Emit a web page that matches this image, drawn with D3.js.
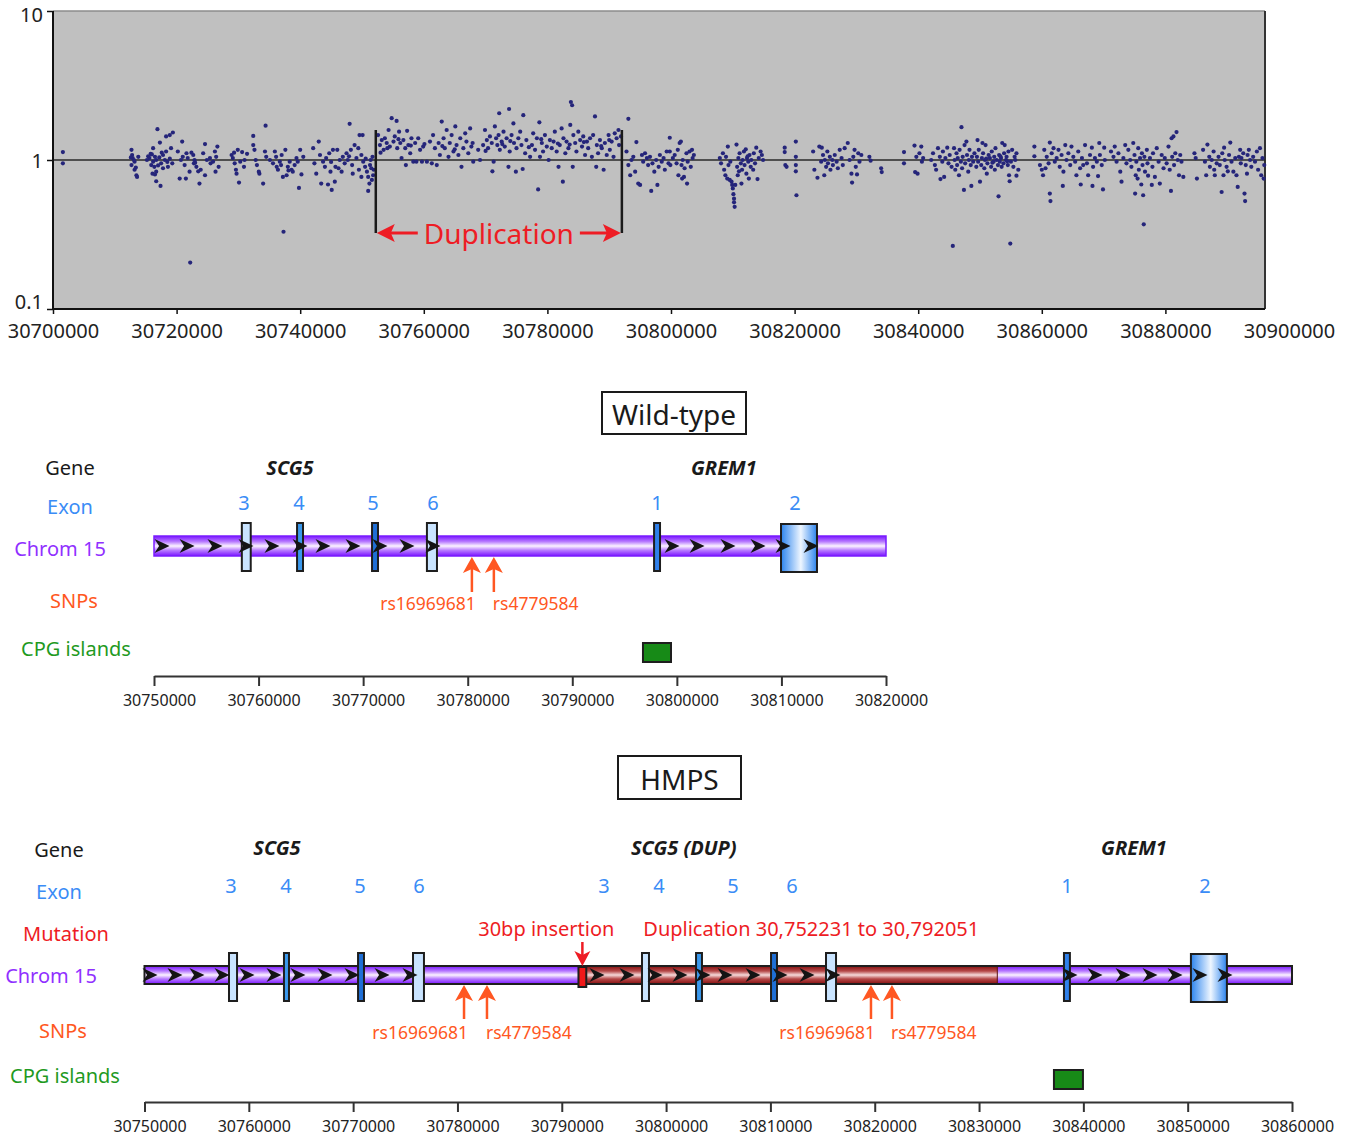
<!DOCTYPE html>
<html>
<head>
<meta charset="utf-8">
<script src="https://cdn.jsdelivr.net/npm/d3@7"></script>
<style>
  body { margin: 0; background: #fff; }
  text { font-family: "Noto Sans", sans-serif; }
</style>
</head>
<body>
<svg id="fig" width="1352" height="1140"></svg>
<script>
/* ---------- data: copy-number ratios (position in kb, ratio) ---------- */
const flankLeft = [
  [30701.6,1.13],[30701.6,0.95],
  [30712.7,1.17],[30712.8,1.08],[30712.9,1.03],[30713.2,0.975],[30712.7,0.925],[30713.4,0.89],[30713.5,0.79],[30713.6,0.77],[30713.1,1.0],[30713.8,1.05],[30712.6,1.04],[30713.2,0.86],
  [30716.9,1.61],[30717.3,1.31],[30716.2,1.20],[30715.4,1.06],[30715.6,1.03],[30716.0,1.09],[30716.5,1.05],[30716.2,0.975],[30716.7,1.0],[30715.9,0.925],[30716.1,0.81],[30716.5,0.80],[30716.7,0.835],[30716.7,0.72],[30717.4,0.67],[30717.2,1.04],[30717.5,0.95],[30717.8,1.08],[30718.1,1.0],[30718.3,1.14],[30718.3,1.44],[30718.9,1.47],[30719.4,1.53],[30718.6,0.90],[30718.9,1.02],[30719.1,1.20],[30719.3,0.95],[30717.8,0.88],[30717.0,0.92],[30715.2,1.0],[30715.8,1.1],[30716.4,0.9],[30717.6,1.12],[30718.5,0.97],
  [30720.2,1.14],[30720.5,0.75],[30720.9,1.33],[30721.0,1.05],[30721.3,0.925],[30721.5,0.75],[30721.6,1.11],[30721.8,1.03],[30722.1,0.835],[30722.2,0.205],[30722.7,1.08],[30722.8,0.95],[30722.9,1.0],[30723.2,0.90],[30723.5,0.84],[30723.7,0.695],[30723.9,0.86],[30724.3,1.11],[30724.6,1.28],[30724.6,0.79],[30724.9,1.0],[30725.4,1.03],[30725.5,0.95],[30726.2,1.14],[30726.3,0.835],[30726.4,1.05],[30726.6,1.23],[30726.8,0.90],[30725.9,0.975],[30720.7,1.0],[30722.4,1.12],[30723.0,0.96],
  [30728.9,1.08],[30729.1,1.03],[30729.4,0.95],[30729.6,0.86],[30729.7,0.81],[30729.9,1.17],[30730.1,0.705],[30730.3,0.975],[30730.6,1.13],[30730.9,0.90],[30731.0,1.0],[30732.4,1.26],[30732.4,1.45],[30732.6,1.17],[30732.8,1.0],[30733.0,0.925],[30733.3,0.835],[30733.4,0.81],[30734.0,0.695],[30734.4,1.70],[30734.3,1.14],[30734.5,1.05],[30731.4,1.1],[30729.3,1.12],
  [30735.1,1.0],[30735.6,0.95],[30735.9,1.14],[30736.1,1.05],[30736.4,0.86],[30736.7,0.975],[30736.9,0.925],[30737.2,0.77],[30737.3,0.33],[30737.6,1.17],[30737.8,0.79],[30738.0,0.90],[30738.3,0.975],[30738.6,0.86],[30738.8,0.835],[30739.1,0.925],[30739.4,1.03],[30739.6,0.975],[30739.8,0.65],[30740.0,1.17],[30740.2,0.80],[30740.5,1.05],[30736.2,0.9],[30737.0,1.08],[30738.1,0.85],
  [30742.1,1.20],[30742.3,0.95],[30742.6,0.81],[30743.0,1.33],[30743.2,1.08],[30743.4,0.695],[30743.7,0.975],[30744.0,0.90],[30744.2,1.03],[30744.5,0.685],[30744.7,1.11],[30744.9,0.835],[30745.1,0.63],[30745.3,1.17],[30745.6,0.715],[30745.7,0.90],[30746.0,1.17],[30746.4,1.0],[30746.7,0.835],[30746.9,1.05],[30747.2,0.95],[30747.5,1.11],[30747.7,1.0],[30748.0,1.75],[30748.2,1.17],[30748.4,0.925],[30748.5,0.81],[30748.8,1.26],[30749.1,1.03],[30749.4,1.20],[30749.5,0.86],[30749.6,1.47],[30749.9,0.77],[30745.0,0.97],[30746.2,0.88],[30747.9,1.06],
  [30749.9,1.08],[30750.2,0.975],[30750.5,0.90],[30750.8,0.835],[30751.0,0.77],[30751.2,0.695],[30751.3,0.925],[30751.4,1.0],[30751.6,0.735],[30751.7,1.05],[30751.8,0.79],[30751.0,0.62],[30751.9,0.86],[30750.1,1.47],[30750.6,1.02],[30751.5,0.88]
];

const dupRegion = [
  [30752.6,1.47],[30752.9,1.26],[30753.2,1.36],[30753.5,1.17],[30753.7,1.40],[30754.0,1.30],[30754.3,1.59],[30754.5,1.23],[30754.8,1.91],[30755.1,1.33],[30755.3,1.44],[30755.6,1.83],[30755.7,1.20],[30756.0,1.55],[30756.2,1.30],[30756.4,1.03],[30756.7,1.36],[30757.0,1.20],[30757.1,0.925],[30757.3,1.57],[30757.5,1.26],[30757.8,1.11],[30758.0,1.40],[30758.3,0.975],[30758.6,1.30],[30758.8,0.975],[30759.1,1.40],[30759.4,1.17],[30759.7,0.975],[30759.9,1.23],
  [30760.5,0.975],[30761.0,1.33],[30761.3,0.95],[30761.5,1.47],[30761.8,1.20],[30762.1,0.925],[30762.4,1.30],[30762.6,1.08],[30762.9,1.81],[30763.2,1.40],[30763.4,1.20],[30763.7,1.59],[30764.0,1.05],[30764.2,1.30],[30764.5,1.47],[30764.8,1.14],[30765.1,1.68],[30765.3,1.26],[30765.6,1.08],[30765.9,1.40],[30766.1,0.90],[30766.4,1.20],[30766.7,1.51],[30766.9,1.33],[30767.2,1.11],[30767.5,1.63],[30767.7,1.23],[30768.0,0.975],[30768.8,1.17],[30769.1,1.0],[30769.6,1.26],[30769.9,1.59],
  [30770.2,1.36],[30770.4,1.20],[30770.7,1.44],[30771.0,1.30],[30771.1,0.84],[30771.3,0.975],[30771.5,1.68],[30771.7,1.40],[30771.9,1.26],[30772.1,1.47],[30772.2,2.06],[30772.3,1.17],[30772.6,1.33],[30772.9,1.55],[30773.1,1.23],[30773.4,1.40],[30773.7,0.90],[30773.8,2.20],[30773.9,1.14],[30774.2,1.47],[30774.5,1.76],[30774.6,1.30],[30774.9,0.835],[30775.0,1.20],[30775.3,1.40],[30775.6,1.55],[30775.8,1.26],[30776.0,0.87],[30776.1,2.0],[30776.4,1.11],[30776.6,1.36],
  [30777.2,1.05],[30777.5,1.26],[30777.7,1.51],[30778.0,1.17],[30778.3,1.40],[30778.5,0.635],[30778.7,1.79],[30778.8,1.05],[30779.1,1.30],[30779.3,1.14],[30779.6,1.47],[30779.9,1.23],[30780.2,1.0],[30780.4,1.36],[30780.7,1.20],[30781.0,1.33],[30781.2,1.55],[30781.5,1.14],[30781.8,0.90],[30782.0,1.26],[30782.3,1.63],[30782.5,0.715],[30782.6,1.40],[30782.9,1.11],[30783.1,1.33],[30783.4,1.20],[30783.7,1.72],[30783.8,2.45],[30784.0,2.33],[30784.1,0.90],[30784.2,1.47],[30784.5,1.30],[30784.7,1.14],[30785.0,1.55],[30785.3,1.36],[30785.6,1.23],[30785.8,1.44],[30786.1,1.08],[30786.4,1.33],[30786.6,1.20],[30786.9,1.40],[30787.2,1.05],[30787.4,1.47],[30787.7,1.96],[30787.9,0.90],[30788.0,1.26],[30788.2,1.11],[30788.5,1.36],[30788.8,1.20],[30789.1,0.86],[30789.3,1.30],[30789.6,1.08],[30789.9,1.47],[30790.1,1.17],[30790.4,1.33],[30790.7,1.05],[30790.9,1.51],[30791.2,1.40],[30791.5,1.59],[30791.6,1.26],[30791.9,1.44],
  [30753.0,1.12],[30754.1,1.2],[30755.9,1.38],[30757.9,1.25],[30760.1,1.28],[30763.0,1.24],[30765.0,1.18],[30767.9,1.3],[30770.0,1.15],[30772.7,1.28],[30774.0,1.34],[30777.0,1.22],[30779.0,1.38],[30781.7,1.29],[30783.6,1.27],[30785.9,1.32],[30788.7,1.24],[30790.0,1.36]
];

const flankRight = [
  [30792.8,1.14],[30793.1,1.89],[30793.1,0.925],[30793.4,0.79],[30793.6,1.0],[30793.9,1.05],[30794.2,0.835],[30794.4,1.32],[30794.7,0.695],[30795.0,0.68],[30795.3,1.08],[30795.5,0.975],[30795.8,1.11],[30796.1,1.03],[30796.3,0.925],[30796.6,1.05],[30796.8,0.62],[30797.0,0.95],[30797.3,0.835],[30797.6,1.0],[30797.8,0.68],[30798.0,0.90],[30798.2,1.08],[30798.5,0.975],[30798.8,1.03],[30799.0,0.86],[30799.3,1.14],[30799.6,0.95],
  [30799.8,1.41],[30799.8,1.14],[30799.9,0.925],[30800.3,1.03],[30800.6,1.08],[30800.9,0.95],[30801.1,1.17],[30801.2,0.79],[30801.4,1.30],[30801.6,1.33],[30801.7,0.925],[30801.8,0.75],[30801.9,1.0],[30802.1,0.77],[30802.2,0.88],[30802.5,1.11],[30802.6,0.695],[30802.7,0.975],[30803.0,1.14],[30803.2,0.90],[30803.4,1.17],[30803.5,1.03],[30803.7,1.08],
  [30807.9,1.03],[30808.1,0.95],[30808.4,1.11],[30808.6,0.86],[30808.8,0.79],[30808.9,1.05],[30809.1,0.75],[30809.2,1.23],[30809.3,0.925],[30809.5,0.735],[30809.6,0.975],[30809.8,0.715],[30809.9,0.68],[30810.0,0.645],[30810.1,0.59],[30810.2,0.55],[30810.2,0.52],[30810.3,0.485],[30810.4,0.68],[30810.6,1.27],[30810.7,0.90],[30810.8,0.79],[30810.9,1.03],[30811.1,1.11],[30811.3,0.95],[30811.4,0.695],[30811.5,0.86],[30811.6,1.0],[30811.8,1.14],[30811.9,0.925],[30812.1,1.18],[30812.2,0.81],[30812.3,1.03],[30812.5,0.975],[30812.6,0.75],[30812.7,1.08],[30812.9,0.90],[30813.0,1.0],[30813.3,0.86],[30813.4,1.11],[30813.6,0.95],[30813.8,1.21],[30814.0,0.745],[30814.2,1.03],[30814.5,1.14],[30814.7,1.08],[30814.9,1.0],[30811.0,0.84],[30812.4,1.06],
  [30818.4,1.21],[30818.4,1.13],[30818.5,0.925],[30818.7,0.90],[30820.2,1.33],[30820.2,1.05],[30820.2,0.925],[30820.2,0.84],[30820.3,0.58],
  [30823.0,1.14],[30823.2,0.86],[30823.7,0.76],[30824.0,1.23],[30824.3,0.975],[30824.4,1.21],[30824.6,1.08],[30824.8,0.79],[30824.9,1.0],[30825.1,0.90],[30825.3,1.14],[30825.4,0.95],[30825.7,1.05],[30825.8,0.86],[30826.1,1.0],[30826.2,0.925],[30826.5,1.08],[30826.8,0.975],[30827.0,0.88],[30827.3,1.17],[30827.6,1.03],[30827.8,0.925],[30828.1,1.20],[30828.6,1.30],[30828.9,1.0],[30829.2,0.81],[30829.3,0.705],[30829.5,1.05],[30829.7,1.17],[30829.9,0.90],[30830.1,0.80],[30830.3,1.11],[30830.5,0.975],[30830.8,1.08],[30832.1,1.05],[30832.3,0.99],
  [30834.0,0.88],[30834.1,0.83],[30837.7,1.13],[30837.7,0.95],
  [30839.4,1.25],[30839.5,0.83],[30839.7,1.05],[30839.9,0.81],[30840.2,1.11],[30840.5,1.23],[30840.6,0.975],[30840.8,1.03],[30842.1,1.0],[30842.4,1.11],[30842.7,0.925],[30842.9,0.86],[30843.2,1.20],[30843.5,1.05],[30843.6,0.745],[30843.9,0.975],[30844.0,1.14],[30844.2,0.77],[30844.4,1.03],[30844.7,1.21],[30844.9,0.95],[30845.1,1.08],[30845.4,0.90],[30845.6,0.265],[30845.8,1.20],[30845.9,1.0],[30846.0,0.86],[30846.2,1.11],[30846.3,0.925],[30846.4,1.03],[30846.6,0.79],[30846.7,1.17],[30846.9,0.975],[30847.0,1.66],[30847.1,0.88],[30847.2,1.05],[30847.4,0.63],[30847.5,1.26],[30847.6,0.95],[30847.8,1.33],[30847.9,1.08],[30848.1,0.835],[30848.2,1.0],[30848.3,1.17],[30848.5,0.925],[30848.6,0.67],[30848.7,1.05],[30848.9,0.975],[30849.1,1.11],[30849.4,0.90],
  [30849.5,1.05],[30849.6,1.36],[30849.7,0.975],[30849.8,1.17],[30850.0,0.715],[30850.2,0.925],[30850.3,1.03],[30850.4,1.30],[30850.5,1.11],[30850.7,0.88],[30850.8,1.0],[30850.9,1.26],[30851.1,0.81],[30851.2,0.95],[30851.4,1.08],[30851.6,1.03],[30851.8,0.90],[30851.9,1.14],[30852.2,0.975],[30852.3,1.05],[30852.4,0.86],[30852.5,1.20],[30852.7,1.0],[30852.9,0.925],[30853.0,0.57],[30853.1,1.08],[30853.2,0.975],[30853.4,1.03],[30853.5,0.90],[30853.6,1.30],[30853.8,0.95],[30853.9,1.11],[30854.0,1.26],[30854.2,1.0],[30854.3,1.05],[30854.5,0.925],[30854.6,1.14],[30854.7,0.79],[30854.8,0.72],[30854.9,0.275],[30855.0,0.975],[30855.2,1.17],[30855.4,0.90],[30855.6,1.05],[30855.7,1.0],[30855.9,1.11],[30855.9,0.785],[30856.2,0.86],[30851.0,1.02],[30852.0,0.96],[30853.3,1.06],[30854.4,0.98],
  [30858.8,1.23],[30858.8,1.06],[30859.7,0.925],[30860.0,0.86],[30860.2,0.79],[30860.4,1.17],[30860.6,0.88],[30860.8,1.05],[30861.1,0.95],[30861.3,0.595],[30861.3,1.31],[30861.4,0.53],[30861.6,1.11],[30861.9,1.20],[30862.1,0.975],[30862.4,1.03],[30862.7,1.17],[30862.9,0.90],[30863.2,1.08],[30863.4,0.67],[30863.5,0.835],[30863.8,1.26],[30864.0,1.0],[30864.3,1.11],[30864.6,0.925],[30864.8,1.23],[30865.1,1.05],[30865.4,0.975],[30865.6,0.79],[30865.9,1.14],[30866.2,0.88],[30866.3,0.685],[30866.5,1.03],[30866.7,0.925],[30867.0,1.26],[30867.3,0.95],[30867.5,0.79],[30867.8,1.08],[30868.1,1.21],[30868.2,0.67],[30868.3,0.90],[30868.6,1.03],[30868.9,0.975],[30869.1,0.78],[30869.3,1.30],[30869.4,1.08],[30869.7,0.925],[30869.9,0.635],[30870.1,1.21],[30870.2,1.0],
  [30871.2,1.14],[30871.6,1.05],[30871.8,1.23],[30872.1,0.975],[30872.4,1.11],[30872.7,0.835],[30872.9,0.715],[30873.2,1.03],[30873.5,1.26],[30873.7,0.95],[30874.0,1.17],[30874.3,1.0],[30874.5,0.90],[30874.8,1.30],[30875.0,1.08],[30875.1,0.595],[30875.2,0.79],[30875.3,0.975],[30875.5,0.75],[30875.6,1.20],[30875.7,0.86],[30875.9,1.03],[30876.1,0.685],[30876.2,1.11],[30876.3,0.925],[30876.4,0.58],[30876.5,0.37],[30876.6,1.05],[30876.7,0.835],[30877.0,1.17],[30877.1,0.95],[30877.2,0.785],[30877.5,1.03],[30877.8,0.68],[30877.9,0.90],[30878.0,1.11],[30878.3,0.77],[30878.6,1.20],[30878.9,0.975],[30879.1,0.695],[30879.4,1.08],[30879.7,0.88],[30879.9,1.03],[30880.2,0.95],[30880.5,1.23],[30880.7,0.86],[30880.9,0.62],[30881.0,1.40],[30881.1,1.05],[30881.3,1.44],[30881.4,0.925],[30881.6,1.11],[30881.8,1.54],[30882.0,1.0],[30882.2,0.79],[30882.4,1.08],[30882.6,0.975],[30882.9,0.77],
  [30884.7,1.11],[30884.9,1.03],[30885.1,0.75],[30886.1,1.17],[30886.4,0.975],[30886.6,0.79],[30886.8,1.27],[30887.1,1.05],[30887.2,0.90],[30887.5,1.0],[30887.8,1.14],[30887.9,0.86],[30888.0,0.79],[30888.3,0.95],[30888.6,1.05],[30888.8,0.925],[30889.1,0.61],[30889.2,1.11],[30889.4,0.79],[30889.5,1.21],[30889.6,1.0],[30889.9,0.90],[30890.1,0.84],[30890.3,1.08],[30890.5,1.31],[30890.7,0.975],[30891.0,0.835],[30891.3,1.03],[30891.5,0.79],[30891.7,0.66],[30891.9,1.05],[30892.1,1.17],[30892.2,0.95],[30892.3,1.03],[30892.6,1.11],[30892.8,0.595],[30892.9,0.53],[30893.0,0.925],[30893.2,0.81],[30893.3,1.08],[30893.5,1.17],[30893.7,1.0],[30893.9,0.90],[30894.2,1.05],[30894.5,0.975],[30894.8,1.14],[30895.0,0.86],[30895.3,1.20],[30895.5,0.79],[30895.7,1.03],[30895.9,0.75],[30896.0,0.925]
];

const topTicks = [30700000, 30720000, 30740000, 30760000, 30780000, 30800000, 30820000, 30840000, 30860000, 30880000, 30900000];
const yTicks = [0.1, 1, 10];
const yTickLabels = ["0.1", "1", "10"];
const dupStart = 30752231, dupEnd = 30792051;

/* ---------- data: wild-type locus ---------- */
const wtGenes = ["SCG5", "GREM1"];
const wtGenePos = [30763000, 30804500];
const wtExonNames = ["3", "4", "5", "6", "1", "2"];
const wtExonStart = [30758400, 30763680, 30770850, 30776100, 30797820, 30809960];
const wtExonEnd = [30759250, 30764250, 30771420, 30777060, 30798390, 30813400];
const wtExonLabelPos = [30758600, 30763870, 30770940, 30776680, 30798100, 30811300];
const wtChevrons = [30750770, 30753160, 30755830, 30758800, 30761280, 30763960, 30766160, 30769030, 30771610, 30774190, 30776680,
                    30799540, 30801930, 30804890, 30807760, 30810150, 30812830];
const snpNames = ["rs16969681", "rs4779584"];
const wtSnpPos = [30780400, 30782500];
const wtCpg = [[30796760, 30799440]];
const wtTicks = [30750000, 30760000, 30770000, 30780000, 30790000, 30800000, 30810000, 30820000];

/* ---------- data: HMPS locus ---------- */
const hmGenes = ["SCG5", "SCG5 (DUP)", "GREM1"];
const hmGenePos = [30762700, 30801700, 30844850];
const hmExonNames = ["3", "4", "5", "6", "3", "4", "5", "6", "1", "2"];
const hmExonStart = [30758100, 30763370, 30770470, 30775740, 30797690, 30802870, 30810060, 30815330, 30838140, 30850310];
const hmExonEnd = [30758870, 30763850, 30771040, 30776790, 30798360, 30803440, 30810630, 30816290, 30838710, 30853760];
const hmExonLabelPos = [30758290, 30763560, 30770660, 30776310, 30794050, 30799320, 30806410, 30812070, 30838430, 30851660];
const hmChevrons = [30750530, 30752920, 30755030, 30757430, 30759830, 30762410, 30764710, 30767300, 30769890, 30772770, 30775450,
                    30793380, 30796250, 30798940, 30801330, 30803540, 30805650, 30808330, 30810920, 30813510, 30816000,
                    30838720, 30841120, 30843800, 30846390, 30848790, 30851180, 30853580];
const hmSnpPos = [30780630, 30782830, 30819640, 30821650];
const hmCpg = [[30837180, 30839960]];
const insertion = [30791600, 30792350];
const dupCopy = [30792350, 30831750];
const hmTicks = [30750000, 30760000, 30770000, 30780000, 30790000, 30800000, 30810000, 30820000, 30830000, 30840000, 30850000, 30860000];

/* ---------- styles ---------- */
const font = '"Noto Sans", sans-serif';
const cBlue = "#3a8cf6", cPurple = "#9030ff", cOrange = "#ff5722", cGreen = "#1f9a1f", cRed = "#ee1c24";
const exonFill = { light: "#c9e4ff", mid: "#3a98ec", dark: "#1f6fd6", grem: "#2f80ea", big: "url(#exonGrad)" };
const wtExonStyle = ["light", "mid", "dark", "light", "grem", "big"];
const hmExonStyle = ["light", "mid", "dark", "light", "light", "mid", "dark", "light", "grem", "big"];

const svg = d3.select("#fig");
const defs = svg.append("defs");

function vGrad(id, edge, mid, center) {
  const g = defs.append("linearGradient").attr("id", id).attr("x1", 0).attr("y1", 0).attr("x2", 0).attr("y2", 1);
  [[0, edge], [0.28, mid], [0.5, center], [0.72, mid], [1, edge]].forEach(s =>
    g.append("stop").attr("offset", s[0]).attr("stop-color", s[1]));
}
vGrad("purpleGrad", "#7a14ff", "#b77aff", "#fbf2ff");
vGrad("redGrad", "#850f0f", "#b54848", "#f6dada");
const eg = defs.append("linearGradient").attr("id", "exonGrad").attr("x1", 0).attr("x2", 1).attr("y1", 0).attr("y2", 0);
[[0, "#2c84ee"], [0.55, "#eef6ff"], [1, "#2c84ee"]].forEach(s =>
  eg.append("stop").attr("offset", s[0]).attr("stop-color", s[1]));

/* ---------- top panel ---------- */
const xTop = d3.scaleLinear().domain([30700000, 30900000]).range([53, 1289]);
const yTop = d3.scaleLog().domain([0.1, 10]).range([309, 11]);
const plotRight = 1265;

svg.append("rect").attr("x", 53).attr("y", 11).attr("width", plotRight - 53).attr("height", 298).attr("fill", "#c0c0c0");
svg.append("line").attr("x1", 53).attr("x2", plotRight).attr("y1", 11).attr("y2", 11).attr("stroke", "#8c8c8c").attr("stroke-width", 1.5);
svg.append("line").attr("x1", plotRight).attr("x2", plotRight).attr("y1", 11).attr("y2", 309).attr("stroke", "#333").attr("stroke-width", 2);
svg.append("line").attr("x1", 53).attr("x2", plotRight).attr("y1", yTop(1)).attr("y2", yTop(1)).attr("stroke", "#2a2a2a").attr("stroke-width", 1.6);

const allPoints = flankLeft.concat(dupRegion, flankRight);
svg.append("g").selectAll("circle").data(allPoints).join("circle")
  .attr("cx", d => xTop(d[0] * 1000))
  .attr("cy", d => yTop(d[1]))
  .attr("r", 2.1)
  .attr("fill", "#25257a");

const gxTop = svg.append("g").attr("transform", "translate(0,309)")
  .call(d3.axisBottom(xTop).tickValues(topTicks).tickSize(5).tickSizeOuter(0).tickFormat(d3.format("d")));
gxTop.select(".domain").remove();
gxTop.selectAll(".tick line").attr("stroke", "#111").attr("stroke-width", 1.5).filter(d => xTop(d) > plotRight + 1).remove();
gxTop.selectAll(".tick text").attr("font-family", font).attr("font-size", 20).attr("fill", "#222").attr("y", 15);

const gyTop = svg.append("g").attr("transform", "translate(53,0)")
  .call(d3.axisLeft(yTop).tickValues(yTicks).tickSize(6).tickSizeOuter(0).tickFormat((d, i) => yTickLabels[i]));
gyTop.select(".domain").remove();
gyTop.selectAll(".tick line").attr("stroke", "#111").attr("stroke-width", 1.5);
gyTop.selectAll(".tick text").attr("font-family", font).attr("font-size", 20).attr("fill", "#222").attr("x", -10)
  .attr("dy", d => d === 0.1 ? "-0.05em" : (d === 10 ? "0.5em" : "0.38em"));

svg.append("line").attr("x1", 53).attr("x2", plotRight).attr("y1", 309).attr("y2", 309).attr("stroke", "#111").attr("stroke-width", 2);
svg.append("line").attr("x1", 53).attr("x2", 53).attr("y1", 11).attr("y2", 309).attr("stroke", "#111").attr("stroke-width", 2);

// duplication annotation
const xs = xTop(dupStart), xe = xTop(dupEnd), yA = 233;
[xs, xe].forEach(x => svg.append("line").attr("x1", x).attr("x2", x).attr("y1", 130).attr("y2", yA)
  .attr("stroke", "#1a1a1a").attr("stroke-width", 2.5));
svg.append("line").attr("x1", xs + 12).attr("x2", xs + 42).attr("y1", yA).attr("y2", yA).attr("stroke", cRed).attr("stroke-width", 3);
svg.append("path").attr("d", `M${xs + 1},${yA}L${xs + 19},${yA - 9}L${xs + 15},${yA}L${xs + 19},${yA + 9}Z`).attr("fill", cRed);
svg.append("line").attr("x1", xe - 42).attr("x2", xe - 12).attr("y1", yA).attr("y2", yA).attr("stroke", cRed).attr("stroke-width", 3);
svg.append("path").attr("d", `M${xe - 1},${yA}L${xe - 19},${yA - 9}L${xe - 15},${yA}L${xe - 19},${yA + 9}Z`).attr("fill", cRed);
svg.append("text").attr("x", (xs + xe) / 2).attr("y", yA).attr("text-anchor", "middle").attr("dominant-baseline", "central")
  .attr("font-size", 28).attr("fill", cRed).text("Duplication");

/* ---------- helpers for locus panels ---------- */
function titleBox(cx, y, w, h, label) {
  svg.append("rect").attr("x", cx - w / 2).attr("y", y).attr("width", w).attr("height", h)
    .attr("fill", "#fff").attr("stroke", "#1a1a1a").attr("stroke-width", 2);
  svg.append("text").attr("x", cx).attr("y", y + h / 2 + 1).attr("text-anchor", "middle").attr("dominant-baseline", "central")
    .attr("font-size", 28).attr("fill", "#1a1a1a").text(label);
}
function rowLabel(x, y, label, color) {
  svg.append("text").attr("x", x).attr("y", y).attr("text-anchor", "middle").attr("dominant-baseline", "central")
    .attr("font-size", 20).attr("fill", color).text(label);
}
function geneLabels(x, names, pos, y) {
  svg.append("g").selectAll("text").data(names).join("text")
    .attr("x", (d, i) => x(pos[i])).attr("y", y).attr("text-anchor", "middle").attr("dominant-baseline", "central")
    .attr("font-size", 20).attr("font-weight", "bold").attr("font-style", "italic").attr("fill", "#1a1a1a")
    .text(d => d);
}
function exons(x, names, starts, ends, labelPos, styles, cy, labelY) {
  const g = svg.append("g");
  g.selectAll("rect").data(names).join("rect")
    .attr("x", (d, i) => x(starts[i]))
    .attr("width", (d, i) => Math.max(5, x(ends[i]) - x(starts[i])))
    .attr("y", (d, i) => cy - 24 + (styles[i] === "big" ? 1 : 0))
    .attr("height", 48)
    .attr("fill", (d, i) => exonFill[styles[i]])
    .attr("stroke", "#1e1e1e").attr("stroke-width", 2);
  svg.append("g").selectAll("text").data(names).join("text")
    .attr("x", (d, i) => x(labelPos[i])).attr("y", labelY).attr("text-anchor", "middle").attr("dominant-baseline", "central")
    .attr("font-size", 20).attr("fill", cBlue).text(d => d);
}
function chevrons(x, pos, cy) {
  svg.append("g").selectAll("path").data(pos).join("path")
    .attr("d", "M-7.5,-7L7.5,0L-7.5,7L-3,0Z")
    .attr("transform", d => `translate(${x(d)},${cy})`)
    .attr("fill", "#141414");
}
function snps(x, pos, tipY, baseY, labelY) {
  const g = svg.append("g");
  pos.forEach((p, i) => {
    const px = x(p);
    g.append("line").attr("x1", px).attr("x2", px).attr("y1", baseY).attr("y2", tipY + 10)
      .attr("stroke", cOrange).attr("stroke-width", 2.5);
    g.append("path").attr("d", `M${px},${tipY}L${px + 9},${tipY + 16}L${px},${tipY + 12}L${px - 9},${tipY + 16}Z`).attr("fill", cOrange);
    const first = i % 2 === 0;
    g.append("text").attr("x", first ? px + 4 : px - 1).attr("y", labelY)
      .attr("text-anchor", first ? "end" : "start").attr("dominant-baseline", "central")
      .attr("font-size", 17.5).attr("fill", cOrange).text(snpNames[i % 2]);
  });
}
function cpg(x, spans, y) {
  svg.append("g").selectAll("rect").data(spans).join("rect")
    .attr("x", d => x(d[0])).attr("width", d => x(d[1]) - x(d[0]))
    .attr("y", y).attr("height", 19)
    .attr("fill", "#178a17").attr("stroke", "#1e1e1e").attr("stroke-width", 2);
}
function scaleAxis(x, ticks, y, labelGap) {
  const g = svg.append("g").attr("transform", `translate(0,${y})`)
    .call(d3.axisBottom(x).tickValues(ticks).tickSize(10).tickSizeOuter(0).tickFormat(d3.format("d")));
  g.attr("color", "#333");
  g.select(".domain").attr("stroke-width", 2);
  g.selectAll(".tick line").attr("stroke-width", 2);
  g.selectAll(".tick text").attr("font-family", font).attr("font-size", 16).attr("fill", "#222")
    .attr("x", 5).attr("y", labelGap);
}

/* ---------- wild-type panel ---------- */
const wtX = d3.scaleLinear().domain([30750000, 30820000]).range([154, 886]);
const wtCy = 546;
titleBox(674, 392, 144, 42, "Wild-type");
rowLabel(70, 467, "Gene", "#1a1a1a");
rowLabel(70, 506, "Exon", cBlue);
rowLabel(60, 548, "Chrom 15", cPurple);
rowLabel(74, 600, "SNPs", cOrange);
rowLabel(76, 648, "CPG islands", cGreen);
geneLabels(wtX, wtGenes, wtGenePos, 467);

svg.append("rect").attr("x", wtX(30750000)).attr("y", wtCy - 10).attr("width", wtX(30820000) - wtX(30750000)).attr("height", 20)
  .attr("fill", "url(#purpleGrad)").attr("stroke", "#7a1cff").attr("stroke-width", 1.5);
exons(wtX, wtExonNames, wtExonStart, wtExonEnd, wtExonLabelPos, wtExonStyle, wtCy + 1, 502);
chevrons(wtX, wtChevrons, wtCy);
snps(wtX, wtSnpPos, 557, 592, 603);
cpg(wtX, wtCpg, 643);
scaleAxis(wtX, wtTicks, 676, 19);

/* ---------- HMPS panel ---------- */
const hmX = d3.scaleLinear().domain([30750000, 30860000]).range([144.5, 1292]);
const hmCy = 975;
titleBox(679.5, 756, 123, 43, "HMPS");
rowLabel(59, 849, "Gene", "#1a1a1a");
rowLabel(59, 891, "Exon", cBlue);
rowLabel(66, 933, "Mutation", cRed);
rowLabel(51, 975, "Chrom 15", cPurple);
rowLabel(63, 1030, "SNPs", cOrange);
rowLabel(65, 1075, "CPG islands", cGreen);
geneLabels(hmX, hmGenes, hmGenePos, 847);

const barX0 = hmX(30750000), barX1 = hmX(30860000);
svg.append("rect").attr("x", barX0).attr("y", hmCy - 9).attr("width", barX1 - barX0).attr("height", 18).attr("fill", "url(#purpleGrad)");
svg.append("rect").attr("x", hmX(dupCopy[0])).attr("y", hmCy - 9).attr("width", hmX(dupCopy[1]) - hmX(dupCopy[0])).attr("height", 18)
  .attr("fill", "url(#redGrad)");
svg.append("line").attr("x1", hmX(dupCopy[1])).attr("x2", hmX(dupCopy[1])).attr("y1", hmCy - 9).attr("y2", hmCy + 9)
  .attr("stroke", "#5a1010").attr("stroke-width", 1);
svg.append("rect").attr("x", barX0).attr("y", hmCy - 9).attr("width", barX1 - barX0).attr("height", 18)
  .attr("fill", "none").attr("stroke", "#1e1e1e").attr("stroke-width", 2);
svg.append("rect").attr("x", hmX(insertion[0])).attr("y", hmCy - 8).attr("width", hmX(insertion[1]) - hmX(insertion[0])).attr("height", 20)
  .attr("fill", "#f01818").attr("stroke", "#1e1e1e").attr("stroke-width", 2);

exons(hmX, hmExonNames, hmExonStart, hmExonEnd, hmExonLabelPos, hmExonStyle, hmCy + 2, 885);
chevrons(hmX, hmChevrons, hmCy);
snps(hmX, hmSnpPos, 985, 1019, 1032);
cpg(hmX, hmCpg, 1070);
scaleAxis(hmX, hmTicks, 1102, 19);

// mutation labels
const insX = (hmX(insertion[0]) + hmX(insertion[1])) / 2;
svg.append("line").attr("x1", insX).attr("x2", insX).attr("y1", 942).attr("y2", 956).attr("stroke", cRed).attr("stroke-width", 2.5);
svg.append("path").attr("d", `M${insX},966L${insX - 8},951L${insX},955L${insX + 8},951Z`).attr("fill", cRed);
svg.append("text").attr("x", insX + 32).attr("y", 928).attr("text-anchor", "end").attr("dominant-baseline", "central")
  .attr("font-size", 20).attr("fill", cRed).text("30bp insertion");
svg.append("text").attr("x", hmX(dupCopy[0]) + 57).attr("y", 928).attr("dominant-baseline", "central")
  .attr("font-size", 20).attr("fill", cRed).text("Duplication 30,752231 to 30,792051");
</script>
</body>
</html>
